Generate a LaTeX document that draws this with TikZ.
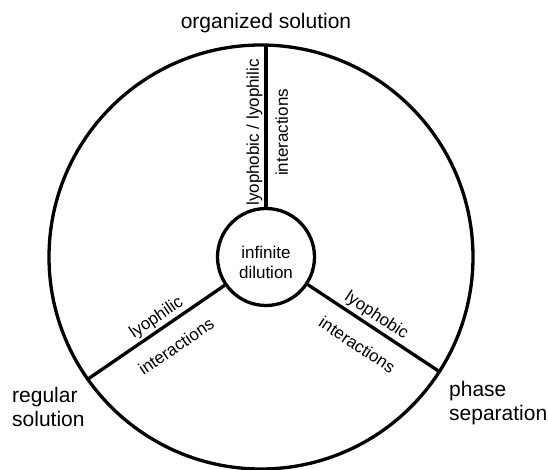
\documentclass[tikz,border=0pt]{standalone}
\usepackage{fontspec}
\setmainfont{Liberation Sans}
\usetikzlibrary{positioning}

\tikzset{
  spoke/.style={line width=3.3pt},
  bigtext/.style={font=\fontsize{21}{24}\selectfont, inner sep=0pt},
  smalltext/.style={font=\fontsize{17}{20}\selectfont, inner sep=2pt, sloped},
}

\begin{document}
\begin{tikzpicture}[x=1pt,y=-1pt]
  \useasboundingbox (0,0) rectangle (548,470);

  \coordinate (ctr) at (261,257);
  \draw[spoke] (ctr) circle (212pt);

  \node[draw, circle, spoke, minimum size=97pt, inner sep=0pt,
        label={[font=\fontsize{17}{20}\selectfont, align=center, yshift=-5pt]center:{infinite\\dilution}}]
        (dil) at (266,257) {};

  \coordinate (topend) at (266,45);
  \coordinate (leftend) at (88,379);
  \coordinate (rightend) at (440,372);

%  three kinds of interaction
  \draw[spoke] (dil.north) -- (topend)
    node[smalltext, pos=0.46, above] (phobphil) {lyophobic / lyophilic}
    node[smalltext, pos=0.46, below=6pt] (interTop) {interactions};
  \draw[spoke] (leftend) -- (dil)
    node[smalltext, pos=0.55, above] (phil) {lyophilic}
    node[smalltext, pos=0.55, below=13pt] (interLeft) {interactions};
  \draw[spoke] (dil) -- (rightend)
    node[smalltext, pos=0.47, above] (phob) {lyophobic}
    node[smalltext, pos=0.47, below=13pt] (interRight) {interactions};

  \node[bigtext, anchor=base] (orgsol) at (266,29) {organized solution};
  \node[bigtext, anchor=north west, align=left] (regsol) at (12,387) {regular\\solution};
  \node[bigtext, anchor=north west, align=left] (phasesep) at (449,381) {phase\\separation};

\end{tikzpicture}
\end{document}
